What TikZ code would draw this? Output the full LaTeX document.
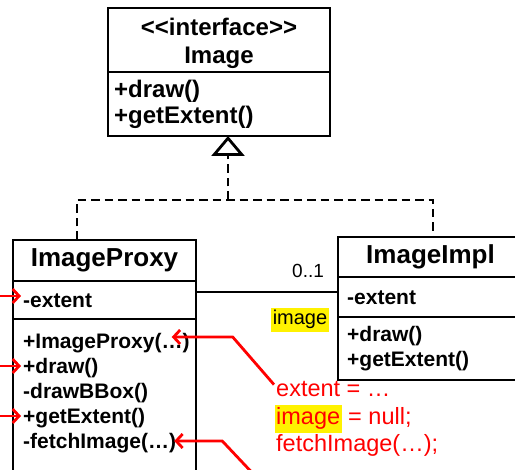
\documentclass[tikz,border=0pt]{standalone}
\usepackage{fontspec}
\setmainfont{Liberation Sans}
\usetikzlibrary{positioning,arrows.meta}
\newcommand{\hlmark}[1]{{\setlength{\fboxsep}{0pt}\colorbox{yellow}{\strut\kern1.5pt#1\kern1.5pt}}}
\tikzset{
    compart/.style={draw, line width=2.8pt, inner sep=0pt, outer sep=0pt, minimum width=#1},
    cname/.style={font=\bfseries\fontsize{26}{30}\selectfont},
    member/.style={anchor=base west, inner sep=2pt, text height=16pt, text depth=0pt, font=\bfseries\fontsize{21}{25}\selectfont},
    note/.style={anchor=base west, inner sep=0pt, text=red, font=\fontsize{23.5}{28}\selectfont},
    redarrow/.style={draw=red, line width=2.8pt, -{Straight Barb[length=6.5pt,width=14pt]}},
    realize/.style={line width=2.8pt, dash pattern=on 8.5pt off 5pt},
}
\begin{document}
\begin{tikzpicture}[x=1pt, y=-1pt]
        \useasboundingbox (0,0) rectangle (515,470);
        \clip (0,0) rectangle (515,470);
        % Image
        \node[compart=222pt, minimum height=64pt, anchor=north west, align=center, font=\bfseries\fontsize{24}{28}\selectfont] (imgname) at (108,8) {\rule{0pt}{25pt}<\kern0pt<interface>\kern0pt>\\Image};
        \node[compart=222pt, minimum height=64pt, below=0pt of imgname] (imgops) {};
        \foreach \m [count=\i] in {+draw(), +getExtent()}
            \node[member, font=\bfseries\fontsize{24}{29}\selectfont] (imgop\i) at (112, 72+26*\i) {\m};
        % ImageProxy
        \node[compart=183pt, minimum height=41pt, anchor=north west, cname] (proxyname) at (13,240) {ImageProxy};
        \node[compart=183pt, minimum height=38pt, below=0pt of proxyname] (proxyattr) {};
        \node[compart=183pt, minimum height=170pt, below=0pt of proxyattr] (proxyops) {};
        \node[member] (pext) at (21,308) {-extent};
        \foreach \m/\n [count=\i] in {+ImageProxy(…)/pctor, +draw()/pdraw, -drawBBox()/pbbox, +getExtent()/pget, -fetchImage(…)/pfetch}
            \node[member] (\n) at (21, 324+25*\i) {\m};
        % ImageImpl
        \node[compart=185pt, minimum height=40pt, anchor=north west, cname] (implname) at (338,237) {ImageImpl};
        \node[compart=185pt, minimum height=40pt, below=0pt of implname] (implattr) {};
        \node[compart=185pt, minimum height=63pt, below=0pt of implattr] (implops) {};
        \node[member] (iext) at (345,305) {-extent};
        \node[member] (idraw) at (345,342) {+draw()};
        \node[member] (iget) at (345,367) {+getExtent()};
        % realization
        \coordinate (tjoin) at (228,200);
        \coordinate (pjoin) at (77,200);
        \coordinate (ijoin) at (433,200);
        \draw[realize] (pjoin |- proxyname.north) -- (pjoin) -- (ijoin) -- (ijoin |- implname.north);
        \draw[realize, -{Triangle[open, length=20pt, width=33pt]}] (tjoin) -- (tjoin |- imgops.south);
        % association
        \coordinate (assoc) at ([yshift=8pt]proxyattr.east);
        \draw[line width=2.8pt] (assoc) -- (assoc -| implattr.west);
        \node[font=\fontsize{19}{23}\selectfont, anchor=base west, inner sep=0pt] (mult) at (292,278) {0..1};
        \node[fill=yellow, inner xsep=2pt, inner ysep=2pt, text height=15pt, text depth=5pt, font=\fontsize{20}{24}\selectfont] (role) at (300,320) {image};
        % notes
        \node[note] (note1) at (276,397) {extent = …};
        \node[note] (note2) at (274.5,425) {\hlmark{image} = null;};
        \node[note] (note3) at (276,452) {fetchImage(…);};
        \coordinate (edge) at (0,0);
        \coordinate (offbot) at (259,480);
        \coordinate (aext) at ([yshift=4pt]pext.west);
        \draw[redarrow] (edge |- aext) -- (aext);
        \draw[redarrow] (edge |- pdraw.west) -- (pdraw.west);
        \draw[redarrow] (edge |- pget.west) -- (pget.west);
        \draw[redarrow] ([xshift=-2pt,yshift=-3pt]note1.north west) -- ([xshift=41pt,yshift=4pt]pctor.east) -- ([xshift=-20pt,yshift=4pt]pctor.east);
        \draw[redarrow] (offbot) -- ([xshift=44pt]pfetch.east) -- ([xshift=-4pt]pfetch.east);
    \end{tikzpicture}
\end{document}
